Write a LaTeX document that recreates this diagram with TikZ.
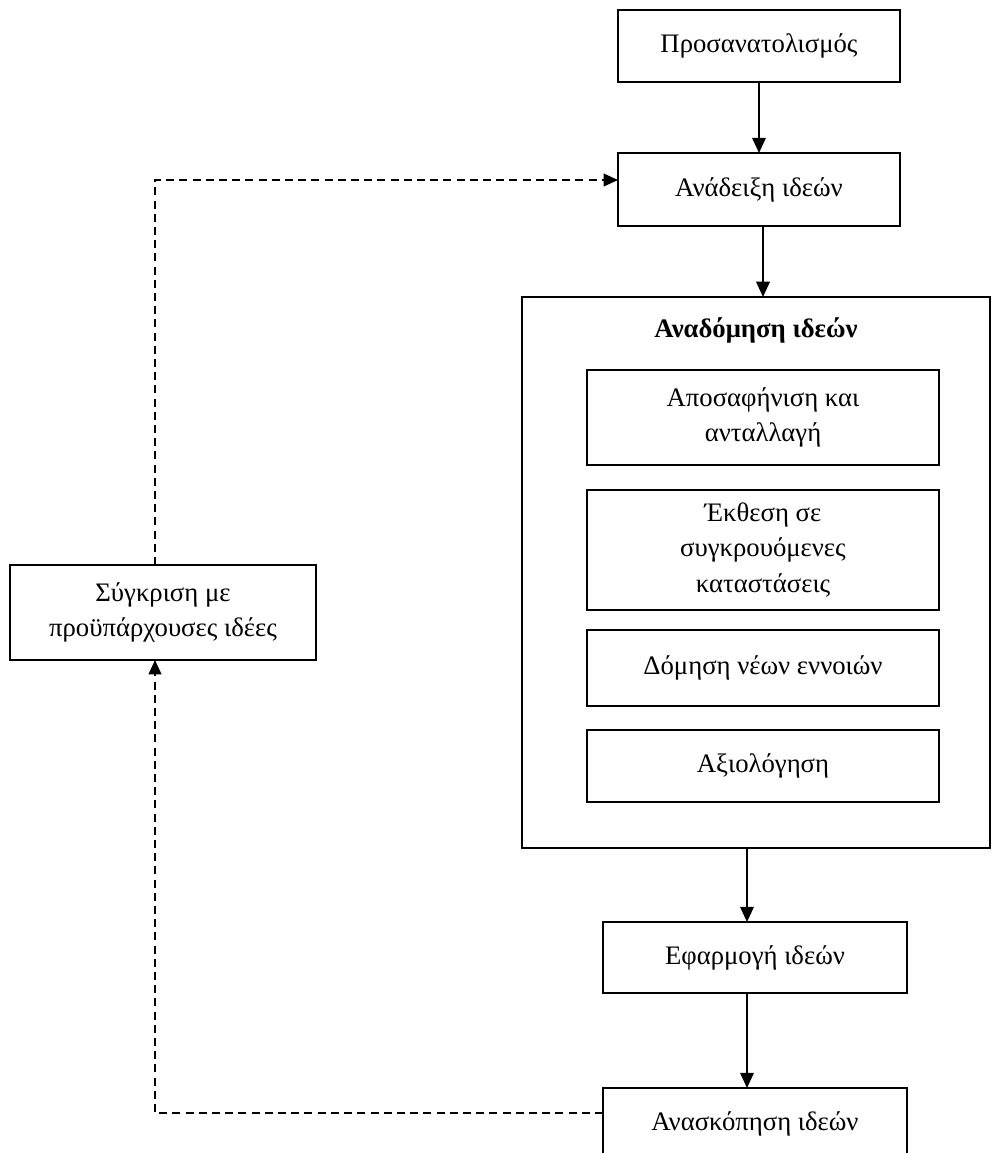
\documentclass[tikz,border=0pt]{standalone}
\usepackage{fontspec}
\setmainfont{Liberation Serif}
\usetikzlibrary{arrows.meta}
\usetikzlibrary{positioning}

\begin{document}
\begin{tikzpicture}[x=0.025cm,y=-0.025cm,
  box/.style={draw,line width=1.2pt,rectangle,inner sep=0pt,outer sep=0pt,align=center,font=\fontsize{19}{25}\selectfont},
  arr/.style={line width=1.2pt,-{Triangle[length=0.38cm,width=0.34cm]}},
  dsh/.style={line width=1.2pt,dash pattern=on 0.2cm off 0.13cm,-{Triangle[length=0.36cm,width=0.32cm]}}]
\clip (0,0) rectangle (992,1153);
\useasboundingbox (0,0) rectangle (992,1153);
\node[box,minimum width=7.05cm,minimum height=1.8cm] (orient) at (759,46) {Προσανατολισμός};
\node[box,minimum width=7.05cm,minimum height=1.825cm] (anad) at (759,189.5) {Ανάδειξη ιδεών};
\node[box,minimum width=11.7cm,minimum height=13.775cm] (big) at (756,572.5) {};
\node[font=\fontsize{19}{25}\selectfont\bfseries] (bigtitle) at (756,330) {Αναδόμηση ιδεών};
\node[box,minimum width=8.8cm,minimum height=2.375cm] (in1) at (763,417.5) {Αποσαφήνιση και\\ανταλλαγή};
\node[box,minimum width=8.8cm,minimum height=3.0cm] (in2) at (763,550) {Έκθεση σε\\συγκρουόμενες\\καταστάσεις};
\node[box,minimum width=8.8cm,minimum height=1.9cm] (in3) at (763,668) {Δόμηση νέων εννοιών};
\node[box,minimum width=8.8cm,minimum height=1.8cm] (in4) at (763,766) {Αξιολόγηση};
\node[box,minimum width=7.6cm,minimum height=1.775cm] (efarm) at (755,957.5) {Εφαρμογή ιδεών};
\node[box,minimum width=7.6cm,minimum height=1.8cm] (anask) at (755,1124) {Ανασκόπηση ιδεών};
\node[box,minimum width=7.65cm,minimum height=2.375cm] (cmp) at (163,612.5) {Σύγκριση με\\προϋπάρχουσες ιδέες};

\coordinate (highleft) at (155,180);
\coordinate (lowleft) at (155,1113);

\draw[arr] (orient.south) -- (anad.north);
\draw[arr] ([xshift=0.1cm]anad.south) -- ([xshift=0.1cm]anad.south |- big.north);
\draw[arr] ([xshift=-0.2cm]efarm.north |- big.south) -- ([xshift=-0.2cm]efarm.north);
\draw[arr] ([xshift=-0.2cm]efarm.south) -- ([xshift=-0.2cm]efarm.south |- anask.north);
\draw[dsh] (anask.west |- lowleft) -- (lowleft) -- (lowleft |- cmp.south);
\draw[dsh] (highleft |- cmp.north) -- (highleft) -- (highleft -| anad.west);

\end{tikzpicture}
\end{document}
